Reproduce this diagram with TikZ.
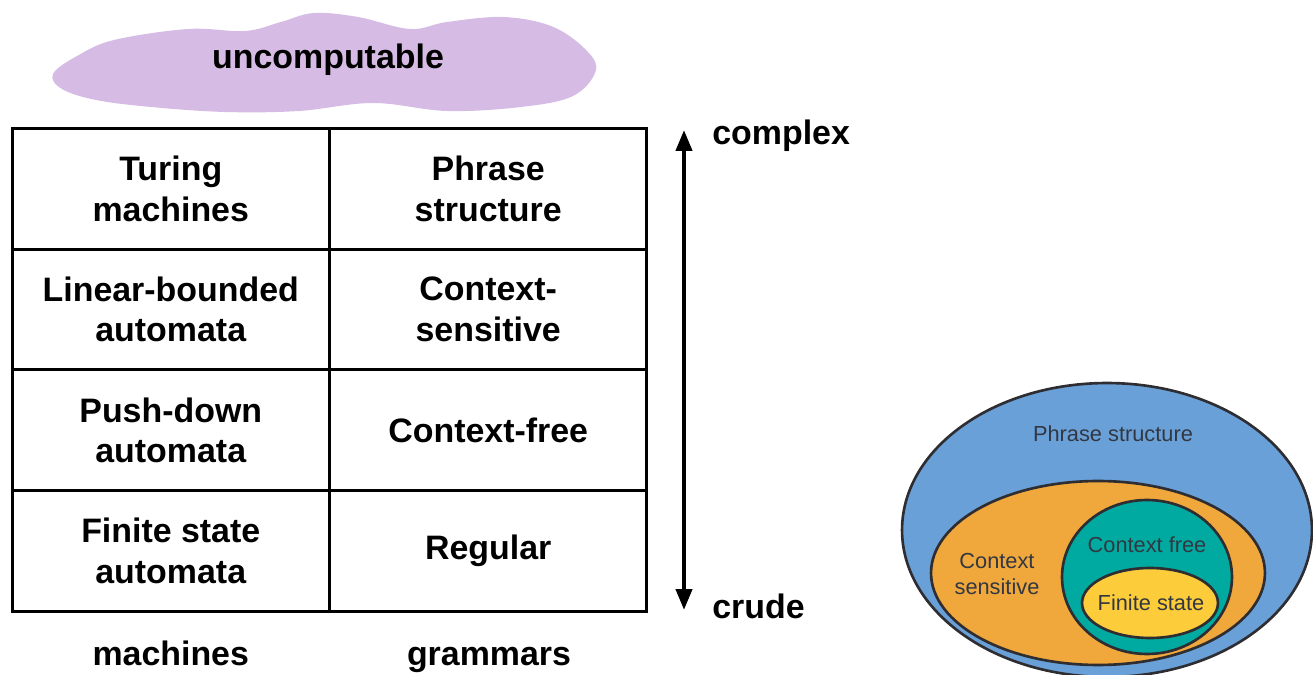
\documentclass[tikz,border=0pt]{standalone}
\usepackage{fontspec}
\setmainfont{Liberation Sans}
\usetikzlibrary{arrows.meta,positioning}

\definecolor{cloudlilac}{RGB}{214,188,228}
\definecolor{psblue}{RGB}{106,160,216}
\definecolor{csorange}{RGB}{240,168,60}
\definecolor{cfteal}{RGB}{0,170,160}
\definecolor{fsyellow}{RGB}{253,204,58}
\definecolor{rim}{RGB}{45,45,50}
\definecolor{inktext}{RGB}{50,55,65}

\begin{document}
\begin{tikzpicture}[
x=0.02cm, y=-0.02cm,
node distance=0pt,
cell/.style={rectangle, draw, line width=1.7pt, minimum width=6.35cm, minimum height=2.415cm, inner sep=0pt, outer sep=0pt, align=center, font=\bfseries\fontsize{19.3}{23}\selectfont},
tag/.style={font=\bfseries\fontsize{19.3}{23}\selectfont, inner sep=0pt},
set/.style={draw=rim, line width=1.5pt},
setlabel/.style={text=inktext, align=center, font=\fontsize{12.4}{15}\selectfont, inner sep=0pt},
arrow/.style={{Triangle[length=0.42cm,width=0.32cm]}-{Triangle[length=0.42cm,width=0.32cm]}, line width=2.4pt}
]
\useasboundingbox (0,0) rectangle (1313,675);
\clip (0,0) rectangle (1313,675);

% cloud
\fill[cloudlilac] plot[smooth cycle, tension=0.6] coordinates {
(53,74) (77,56) (114,40) (188,29) (245,31) (281,22) (314,13) (358,17)
(410,29) (447,22) (503,17) (551,26) (584,48) (596,70) (573,96) (521,107)
(447,111) (373,103) (299,111) (225,112) (151,107) (96,100) (62,89)};
\node[tag] (uncomp) at (328,60) {uncomputable};

% table
\node[cell] (turing) at (170.75,188.75) {Turing\\machines};
\node[cell, right=of turing] (phrase) {Phrase\\structure};
\node[cell, below=of turing] (lba) {Linear-bounded\\automata};
\node[cell, right=of lba] (ctxsens) {Context-\\sensitive};
\node[cell, below=of lba] (pda) {Push-down\\automata};
\node[cell, right=of pda] (ctxfree) {Context-free};
\node[cell, below=of pda] (fsa) {Finite state\\automata};
\node[cell, right=of fsa] (regular) {Regular};

\node[tag, anchor=base] (machines) at (170.75,665) {machines};
\node[tag, anchor=base] (grammars) at (489,665) {grammars};

% scale arrow
\coordinate (hi) at (684,130);
\coordinate (lo) at (684,610);
\draw[arrow] (lo) -- (hi);
\node[tag, anchor=base west] (complex) at (712,145) {complex};
\node[tag, anchor=base west] (crude) at (712,619) {crude};

% nested sets
\filldraw[set, fill=psblue] (1107,530) ellipse [x radius=4.1cm, y radius=2.94cm];
\filldraw[set, fill=csorange] (1098,573) ellipse [x radius=3.34cm, y radius=1.84cm];
\filldraw[set, fill=cfteal] (1147,577) ellipse [x radius=1.7cm, y radius=1.54cm];
\filldraw[set, fill=fsyellow] (1150,603) ellipse [x radius=1.36cm, y radius=0.7cm];
\node[setlabel] (psname) at (1113,434) {Phrase structure};
\node[setlabel] (csname) at (997,574) {Context\\sensitive};
\node[setlabel] (cfname) at (1147,545) {Context free};
\node[setlabel] (fsname) at (1151,603) {Finite state};
\end{tikzpicture}
\end{document}
